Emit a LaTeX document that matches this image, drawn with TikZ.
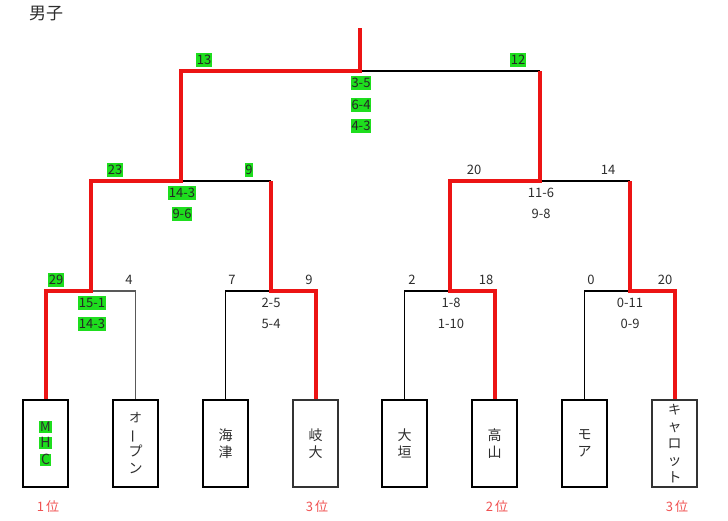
\documentclass[tikz,border=0pt]{standalone}
\usepackage{fontspec}
\usepackage{graphicx}
\setmainfont{Noto Sans CJK JP}
\definecolor{wred}{RGB}{236,20,20}
\definecolor{wgreen}{RGB}{30,222,30}
\definecolor{rankred}{RGB}{240,80,80}
\definecolor{txt}{RGB}{45,45,45}
\newcommand{\hlg}[1]{{\setlength{\fboxsep}{0pt}\colorbox{wgreen}{\rule[-1.5bp]{0pt}{11.5bp}\hspace{1.2bp}#1\hspace{1.2bp}}}}
\begin{document}
\begin{tikzpicture}[x=1bp,y=-1bp,
  team/.style={draw=black,line width=1.3bp,minimum width=45bp,minimum height=87bp,inner sep=0pt,align=center,font=\fontsize{14bp}{17bp}\selectfont,text=txt},
  link/.style={draw=black,line width=1.25bp},
  win/.style={draw=wred,line width=4bp,line join=miter},
  sc/.style={font=\fontsize{13bp}{15bp}\selectfont,text=txt,inner xsep=0.6bp,inner ysep=1bp,text height=9.8bp,text depth=1.6bp},
  gsc/.style={sc,fill=wgreen,text=black!85},
  rank/.style={font=\fontsize{13bp}{15bp}\selectfont,text=rankred}]
\useasboundingbox (0,0) rectangle (728,521);
% junction coordinates
\coordinate (j1) at (90.5,291);
\coordinate (j2) at (270.5,291);
\coordinate (j3) at (449.5,291);
\coordinate (j4) at (629.5,291);
\coordinate (k1) at (180.5,181);
\coordinate (k2) at (539.5,181);
\coordinate (f) at (360,71);
\coordinate (top) at (360,28);
% team box positions
\path (45.5,443.5) coordinate (p1) (135.5,443.5) coordinate (p2)
      (225.5,443.5) coordinate (p3) (315.5,443.5) coordinate (p4)
      (404.5,443.5) coordinate (p5) (494.5,443.5) coordinate (p6)
      (584.5,443.5) coordinate (p7) (674.5,443.5) coordinate (p8);
\coordinate (b1) at (45.5,400); \coordinate (b2) at (135.5,400);
\coordinate (b3) at (225.5,400); \coordinate (b4) at (315.5,400);
\coordinate (b5) at (404.5,400); \coordinate (b6) at (494.5,400);
\coordinate (b7) at (584.5,400); \coordinate (b8) at (674.5,400);
% black links
\draw[link,draw=black!65] (b2) |- (j1);
\draw[link] (b3) |- (j2);
\draw[link] (b5) |- (j3);
\draw[link] (b7) |- (j4);
\draw[link] (j1 |- k1) -- (j2 |- k1);
\draw[link] (j3 |- k2) -- (j4 |- k2);
\draw[link] (k1 |- f) -- (k2 |- f);
% winner paths
\draw[win] (b1) |- (j1) |- (k1) |- (f) -- (top);
\draw[win] (b4) |- (j2) -- (j2 |- k1);
\draw[win] (b6) |- (j3) |- (k2) -- (k2 |- f);
\draw[win] (b8) |- (j4) -- (j4 |- k2);
% boxes
\node[team] (t1) at (p1) {\fontsize{13bp}{15bp}\selectfont\hlg{M}\\[-0.6bp]\hlg{H}\\[-0.6bp]\hlg{C}};
\node[team] (t2) at (p2) {\fontsize{13bp}{14.7bp}\selectfont オ\\\rotatebox[origin=c]{90}{ー}\\プ\\ン};
\node[team] (t3) at (p3) {海\\津};
\node[team,draw=black!80] (t4) at (p4) {岐\\大};
\node[team] (t5) at (p5) {大\\垣};
\node[team] (t6) at (p6) {高\\山};
\node[team] (t7) at (p7) {モ\\ア};
\node[team,draw=black!80] (t8) at (p8) {\fontsize{13bp}{14.3bp}\selectfont キ\\ャ\\ロ\\ッ\\ト};
% title
\node[font=\fontsize{17bp}{19bp}\selectfont,text=txt] (title) at (46,14) {男子};
% final scores
\node[gsc] (a13) at (204,60) {13};
\node[gsc] (a12) at (518,60) {12};
\node[gsc] (fa) at (361,83) {3-5};
\node[gsc] (fb) at (361,105) {6-4};
\node[gsc] (fc) at (361,126) {4-3};
% semifinal scores
\node[gsc] (l23) at (115,170) {23};
\node[gsc] (l9) at (249,170) {9};
\node[gsc] (la) at (182,193) {14-3};
\node[gsc] (lb) at (182,214) {9-6};
\node[sc] (r20) at (474,170) {20};
\node[sc] (r14) at (608,170) {14};
\node[sc] (ra) at (541,193) {11-6};
\node[sc] (rb) at (541,214) {9-8};
% first round scores
\node[gsc] (m1) at (56,280) {29};
\node[sc] (m2) at (129,280) {4};
\node[gsc] (m3) at (92,303) {15-1};
\node[gsc] (m4) at (92,324) {14-3};
\node[sc] (n1) at (232,280) {7};
\node[sc] (n2) at (309,280) {9};
\node[sc] (n3) at (271,303) {2-5};
\node[sc] (n4) at (271,324) {5-4};
\node[sc] (o1) at (412,280) {2};
\node[sc] (o2) at (486,280) {18};
\node[sc] (o3) at (451,303) {1-8};
\node[sc] (o4) at (451,324) {1-10};
\node[sc] (q1) at (591,280) {0};
\node[sc] (q2) at (665,280) {20};
\node[sc] (q3) at (630,303) {0-11};
\node[sc] (q4) at (630,324) {0-9};
% ranks
\node[rank] (rk1) at (48,507) {1\hspace{2bp}位};
\node[rank] (rk3a) at (317,507) {3\hspace{2bp}位};
\node[rank] (rk2) at (497,507) {2\hspace{2bp}位};
\node[rank] (rk3b) at (677,507) {3\hspace{2bp}位};
\end{tikzpicture}
\end{document}
